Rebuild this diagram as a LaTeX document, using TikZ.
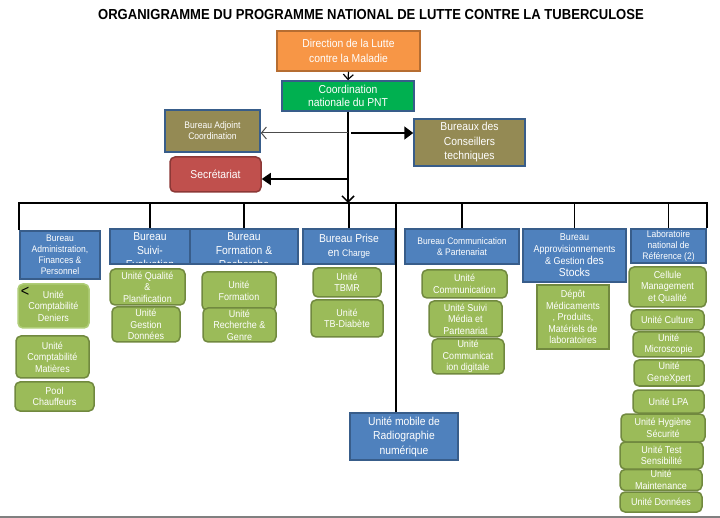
\documentclass[tikz,border=0pt]{standalone}
\usepackage{fontspec}
\setmainfont[FakeStretch=0.9]{Liberation Sans}
\usetikzlibrary{arrows.meta}
\definecolor{bureaublue}{RGB}{79,129,189}
\definecolor{bureauline}{RGB}{56,93,138}
\definecolor{unitgreen}{RGB}{155,187,89}
\definecolor{unitline}{RGB}{113,137,63}
\definecolor{unitlight}{RGB}{175,205,120}
\definecolor{olivebox}{RGB}{148,138,84}
\definecolor{dirorange}{RGB}{247,150,70}
\definecolor{dirline}{RGB}{182,109,49}
\definecolor{coordgreen}{RGB}{0,176,80}
\definecolor{secred}{RGB}{192,80,77}
\definecolor{secline}{RGB}{140,56,54}

\tikzset{
    sz/.style 2 args={minimum width=#1, minimum height=#2},
    f8/.style={font=\fontsize{9.5}{11}\selectfont},
    f11/.style={font=\fontsize{11.5}{14.5}\selectfont},
    bureau/.style={draw=bureauline, fill=bureaublue, line width=1.5pt, text=white,
        align=center, inner sep=1pt, f8},
    unite/.style={draw=unitline, fill=unitgreen, line width=1.5pt, text=white,
        align=center, inner sep=1pt, rounded corners=5pt,
        font=\fontsize{10}{11.5}\selectfont},
    link/.style={line width=1.8pt},
}

\begin{document}
\begin{tikzpicture}[x=1pt, y={(0,-1pt)}]
    \useasboundingbox (0,0) rectangle (720,518);

    % Title
    \node[font=\fontsize{14.5}{17}\selectfont\bfseries] (title) at (371,15)
        {ORGANIGRAMME DU PROGRAMME NATIONAL DE LUTTE CONTRE LA TUBERCULOSE};

    % Direction and coordination
    \node[draw=dirline, fill=dirorange, line width=1.5pt, text=white, align=center,
        f11, sz={143}{40}] (dir) at (348.5,51) {Direction de la Lutte\\contre la Maladie};
    \node[draw=bureauline, fill=coordgreen, line width=1.5pt, text=white, align=center,
        font=\fontsize{11.5}{13}\selectfont, sz={132}{30}] (coord) at (348,96)
        {Coordination\\nationale du PNT};
    \node[draw=bureauline, fill=olivebox, line width=1.5pt, text=white, align=center,
        f8, sz={95}{42}] (adjoint) at (212.5,131) {Bureau Adjoint\\Coordination};
    \node[draw=bureauline, fill=olivebox, line width=1.5pt, text=white, align=center,
        f11, sz={111}{47}] (conseil) at (469.5,142.5) {Bureaux des\\Conseillers\\techniques};
    \node[draw=secline, fill=secred, line width=1.5pt, text=white, rounded corners=5pt,
        f11, sz={91}{35}] (secr) at (215.5,174.5) {Secrétariat};

    \coordinate (bar) at (348,203);
    \coordinate (jA) at (348,133);
    \coordinate (jS) at (348,179);

    \draw[line width=1.2pt, -{Straight Barb[length=5pt, width=10pt]}] (dir.south) -- (coord.north);
    \draw[line width=1.5pt, -{Straight Barb[length=6pt, width=12pt]}] (coord.south) -- (bar);
    \draw[line width=1pt, black!70, -{Straight Barb[length=5pt, width=12pt]}] (jA) -- (jA -| adjoint.east);
    \draw[link, -{Triangle[length=9pt, width=13pt]}] ([xshift=3pt]jA) -- (jA -| conseil.west);
    \draw[link, -{Triangle[length=9pt, width=12pt]}] (jS) -- (jS -| secr.east);

    % Bureaux
    \node[bureau, sz={80}{48}] (admin) at (60,255)
        {Bureau\\Administration,\\Finances \&\\Personnel};
    \node[bureau, sz={80}{35}, path picture={
        \node[text=white, align=center, font=\fontsize{11.5}{14}\selectfont]
            at ([yshift=-4pt]path picture bounding box.center) {Bureau\\Suivi-\\Evaluation};
        }] (suivi) at (150,246.5) {};
    \node[bureau, sz={108}{35}, path picture={
        \node[text=white, align=center, font=\fontsize{11.5}{14}\selectfont]
            at ([yshift=-4pt]path picture bounding box.center) {Bureau\\Formation \&\\Recherche};
        }] (formation) at (244,246.5) {};
    \node[bureau, f11, sz={92}{35}] (prise) at (349,246.5)
        {Bureau Prise\\en {\fontsize{9.5}{11}\selectfont Charge}};
    \node[bureau, sz={114}{35}] (comm) at (462,246.5)
        {Bureau Communication\\\& Partenariat};
    \node[bureau, sz={103}{53}, font=\fontsize{10}{12}\selectfont] (appro) at (574.5,255.5)
        {Bureau\\Approvisionnements\\\& Gestion {\fontsize{11.5}{13}\selectfont des}\\{\fontsize{11.5}{13}\selectfont Stocks}};
    \node[bureau, sz={75}{34}] (labo) at (668.5,246)
        {Laboratoire\\national de\\Référence (2)};
    \node[bureau, f11, sz={108}{47}] (mobile) at (404,436.5)
        {Unité mobile de\\Radiographie\\numérique};

    % Liaisons
    \draw[link] (admin.north west) |- (bar) -| (labo.north east);
    \foreach \b in {suivi, formation, prise, comm, appro, labo}
        \draw[link] (\b.north) -- (\b.north |- bar);
    \draw[link] ([xshift=-8pt]mobile.north) -- ([xshift=-8pt]mobile.north |- bar);

    % Unites
    \node[unite, draw=unitlight, sz={71}{44}] (deniers) at (53.5,306)
        {Unité\\Comptabilité\\Deniers};
    \node[font=\fontsize{16}{16}\selectfont] (chevron) at (25,292) {<};
    \node[unite, sz={73}{42}] (matieres) at (52.5,357) {Unité\\Comptabilité\\Matières};
    \node[unite, sz={79}{29}] (pool) at (54.5,396.5) {Pool\\Chauffeurs};

    \node[unite, sz={75}{36}] (qualite) at (147.5,287) {Unité Qualité\\\&\\Planification};
    \node[unite, sz={68}{35}] (gestion) at (146,324.5) {Unité\\Gestion\\Données};

    \node[unite, sz={74}{38}] (uformation) at (239,291) {Unité\\Formation};
    \node[unite, sz={73}{34}] (recherche) at (239.5,325) {Unité\\Recherche \&\\Genre};

    \node[unite, sz={68}{29}] (tbmr) at (347,282.5) {Unité\\TBMR};
    \node[unite, sz={72}{37}] (tbdiab) at (347,318.5) {Unité\\TB-Diabète};

    \node[unite, sz={85}{28}] (ucomm) at (464.5,284) {Unité\\Communication};
    \node[unite, sz={73}{36}] (media) at (465.5,319) {Unité Suivi\\Média et\\Partenariat};
    \node[unite, sz={72}{35}] (digit) at (468,356.5) {Unité\\Communicat\\ion digitale};

    \node[unite, rounded corners=0pt, sz={72}{64}] (depot) at (573,317)
        {Dépôt\\Médicaments\\, Produits,\\Matériels de\\laboratoires};

    \node[unite, sz={77}{40}] (cellule) at (667.5,287) {Cellule\\Management\\et Qualité};
    \node[unite, sz={73}{20}] (culture) at (667.5,320) {Unité Culture};
    \node[unite, sz={71}{25}] (micro) at (668.5,344.5) {Unité\\Microscopie};
    \node[unite, sz={70}{26}] (genex) at (669,373) {Unité\\GeneXpert};
    \node[unite, sz={71}{23}] (lpa) at (668.5,401.5) {Unité LPA};
    \node[unite, sz={84}{28}] (hygiene) at (663,428) {Unité Hygiène\\Sécurité};
    \node[unite, sz={83}{27}] (test) at (661.5,455.5) {Unité Test\\Sensibilité};
    \node[unite, sz={82}{20}] (maint) at (661,480) {Unité\\Maintenance};
    \node[unite, sz={82}{20}] (udonnees) at (661,502) {Unité Données};

    \draw[line width=2pt, black!50] (0,516.5) -- (720,516.5);
\end{tikzpicture}
\end{document}
